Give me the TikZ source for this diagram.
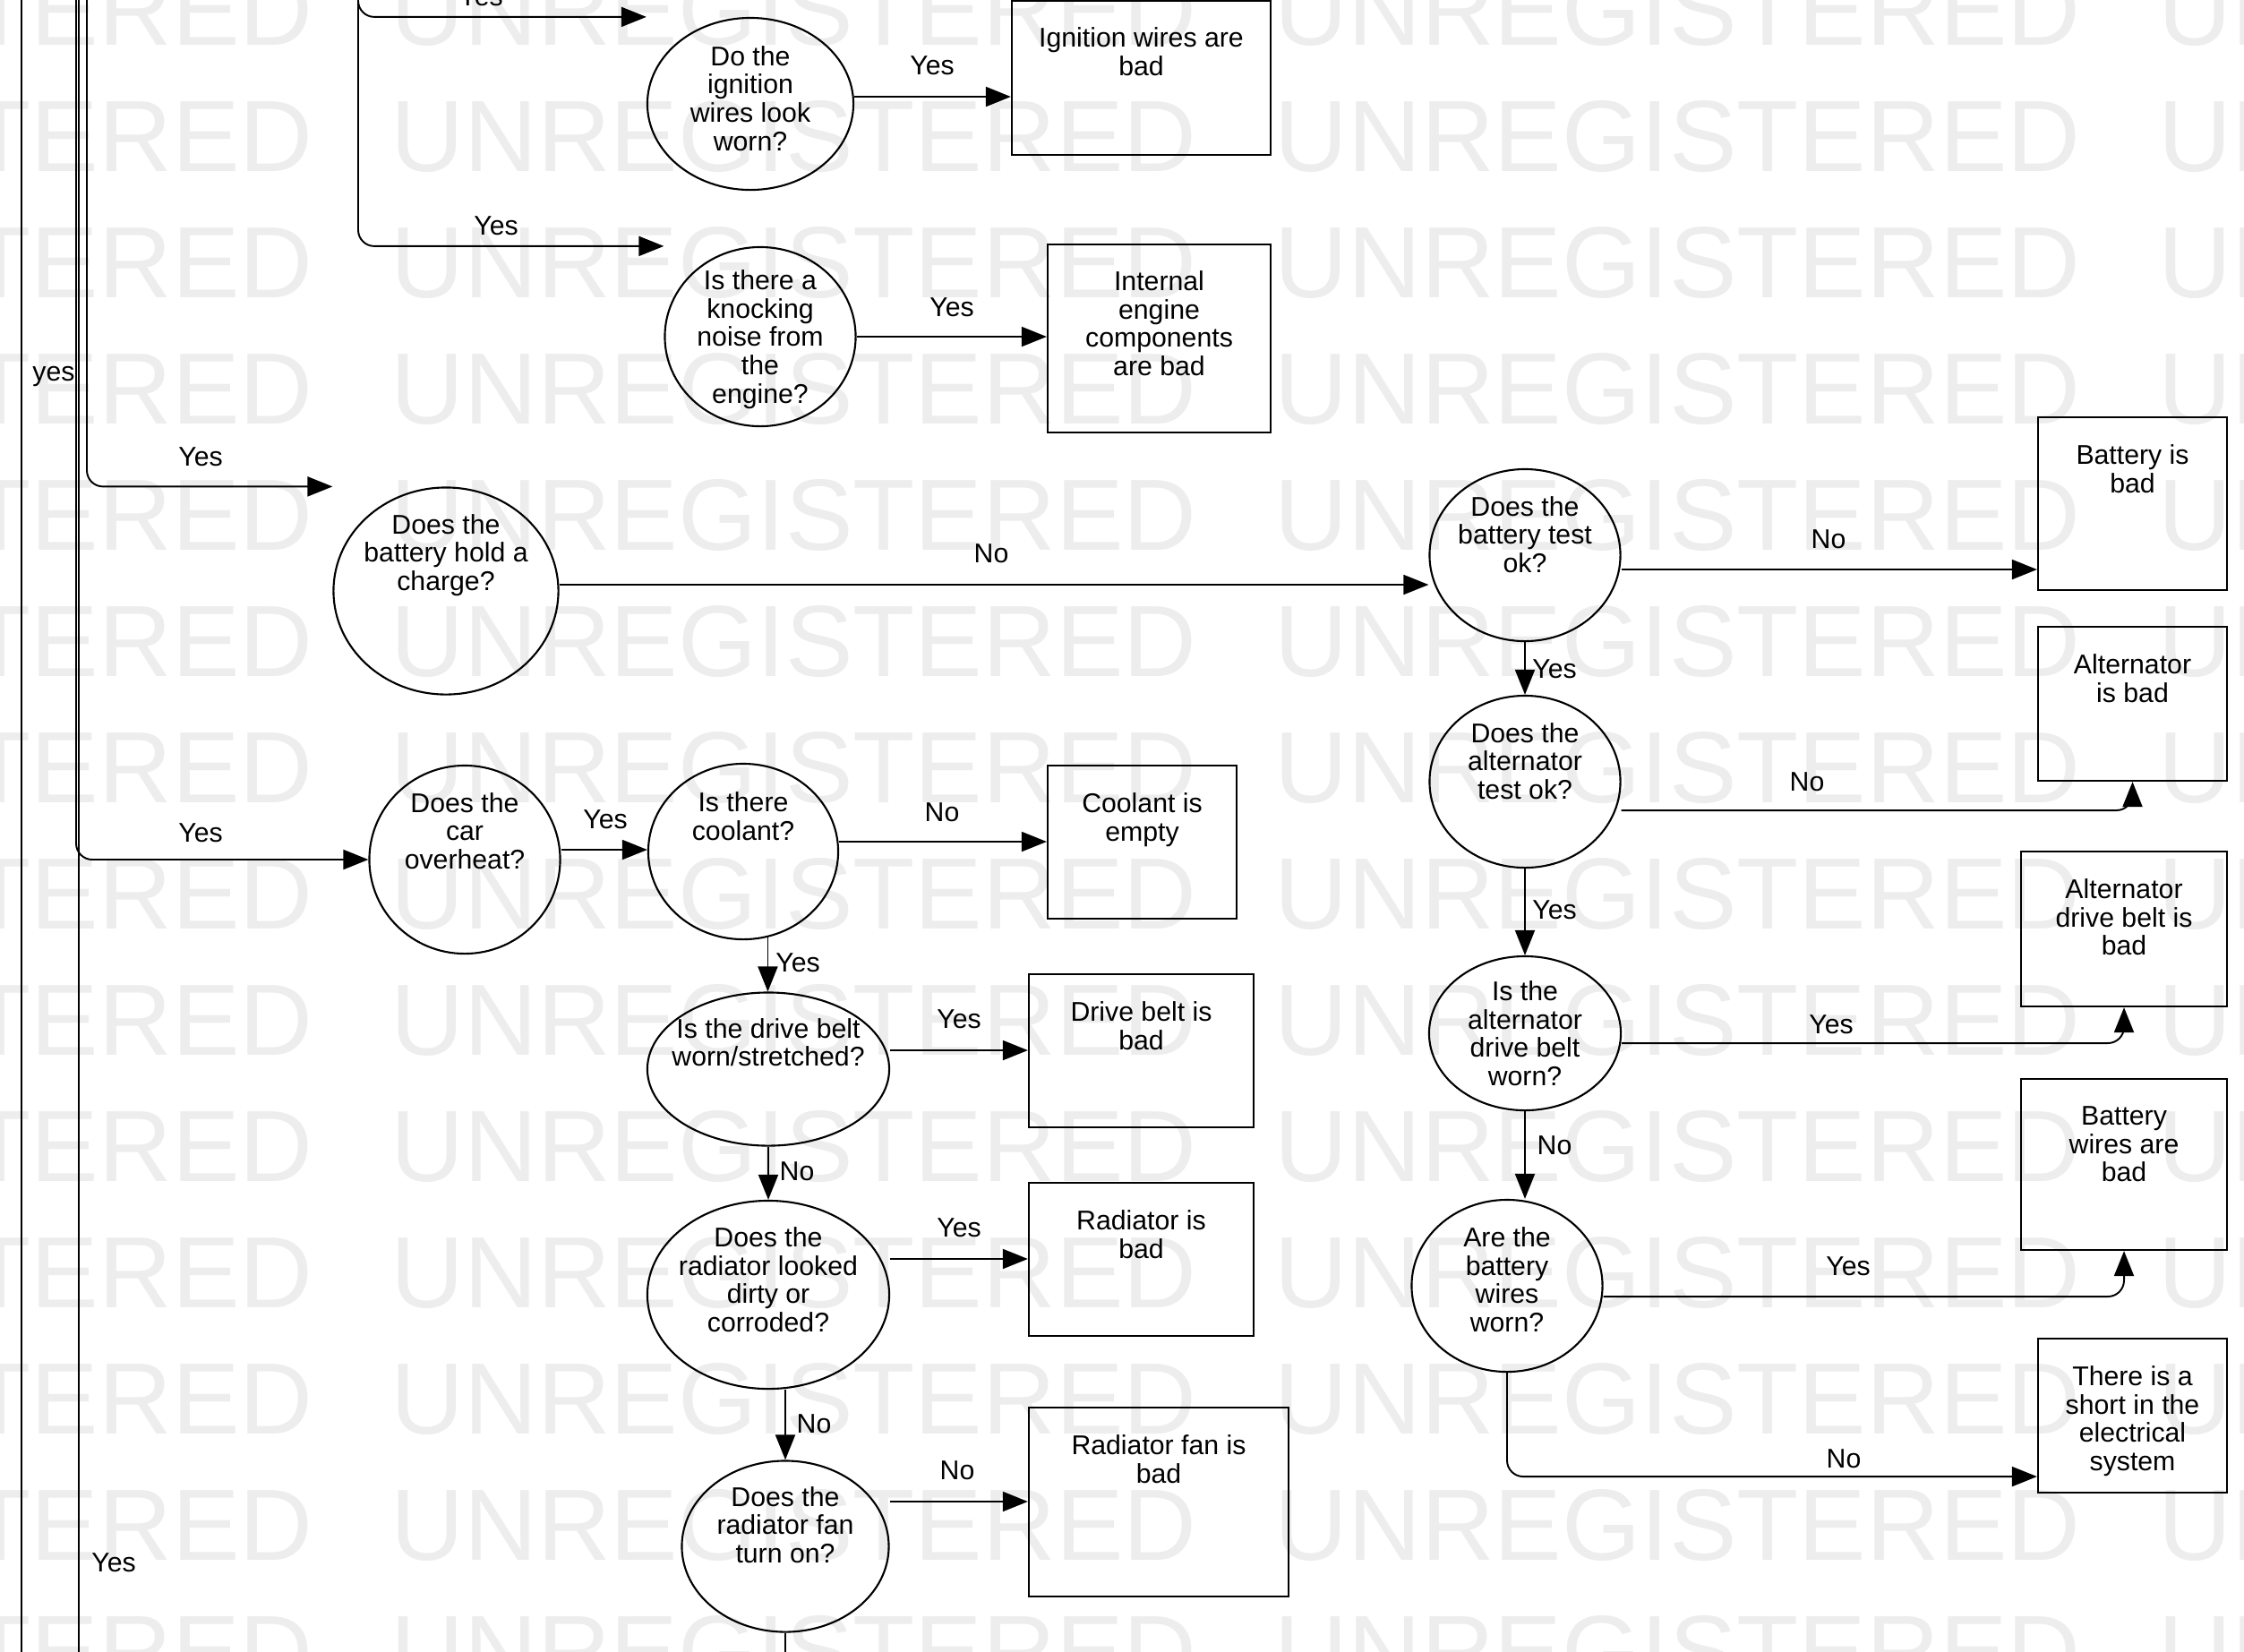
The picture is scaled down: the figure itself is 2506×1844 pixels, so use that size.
\documentclass[tikz,border=0pt]{standalone}
\usepackage{fontspec}
\setmainfont{Liberation Sans}
\usetikzlibrary{arrows.meta,positioning,shapes.geometric}
\definecolor{wmGray}{RGB}{237,237,237}

\begin{document}
\begin{tikzpicture}[
    x=0.01cm,y=-0.01cm,
    font=\fontsize{8.6pt}{9pt}\selectfont,
    quest/.style={draw,ellipse,line width=0.6pt,inner sep=0pt},
    qtext/.style={align=center,inner sep=0pt},
    outcome/.style={draw,rectangle,line width=0.6pt,inner sep=0pt},
    otext/.style={align=center,inner sep=0pt,anchor=north},
    arrow/.style={-{Triangle[length=0.28cm,width=0.22cm]},line width=0.55pt,rounded corners=0.18cm},
    wire/.style={line width=0.55pt},
    lbl/.style={inner sep=0pt},
    wmark/.style={anchor=north west,inner sep=0pt,text=wmGray,font=\fontsize{32.2pt}{33pt}\selectfont}
  ]
    \useasboundingbox (0,0) rectangle (2506,1844);
    \clip (0,0) rectangle (2506,1844);
    \foreach \r in {0,...,13}
      \foreach \c in {0,...,3}
        \node[wmark] (wm-\r-\c) at (-551+987*\c,-29+141*\r) {UNREGISTERED};

    \node[quest,minimum width=2.30cm,minimum height=1.92cm] (qign) at (838,116) {};
    \node[quest,minimum width=2.13cm,minimum height=2.00cm] (qknock) at (849,376) {};
    \node[quest,minimum width=2.51cm,minimum height=2.31cm] (qchg) at (498,660) {};
    \node[quest,minimum width=2.13cm,minimum height=1.92cm] (qbt) at (1703,620) {};
    \node[quest,minimum width=2.13cm,minimum height=1.92cm] (qalt) at (1703,873) {};
    \node[quest,minimum width=2.14cm,minimum height=1.72cm] (qbelt) at (1703,1154) {};
    \node[quest,minimum width=2.13cm,minimum height=1.92cm] (qwires) at (1683,1436) {};
    \node[quest,minimum width=2.13cm,minimum height=2.10cm] (qover) at (519,960) {};
    \node[quest,minimum width=2.12cm,minimum height=1.96cm] (qcool) at (830,951) {};
    \node[quest,minimum width=2.70cm,minimum height=1.71cm] (qdb) at (858,1194) {};
    \node[quest,minimum width=2.70cm,minimum height=2.10cm] (qdirty) at (858,1446) {};
    \node[quest,minimum width=2.31cm,minimum height=1.91cm] (qfan) at (877,1727) {};

    \node[qtext] (qign-t) at ([yshift=0.06cm]qign.center) {Do the\\ignition\\wires look\\worn?};
    \node[qtext] (qknock-t) at ([yshift=-0.03cm]qknock.center) {Is there a\\knocking\\noise from\\the\\engine?};
    \node[qtext] (qchg-t) at ([yshift=0.40cm]qchg.center) {Does the\\battery hold a\\charge?};
    \node[qtext] (qbt-t) at ([yshift=0.23cm]qbt.center) {Does the\\battery test\\ok?};
    \node[qtext] (qalt-t) at ([yshift=0.23cm]qalt.center) {Does the\\alternator\\test ok?};
    \node[qtext] (qbelt-t) at (qbelt.center) {Is the\\alternator\\drive belt\\worn?};
    \node[qtext] (qwires-t) at ([yshift=0.07cm]qwires.center) {Are the\\battery\\wires\\worn?};
    \node[qtext] (qover-t) at ([yshift=0.32cm]qover.center) {Does the\\car\\overheat?};
    \node[qtext] (qcool-t) at ([yshift=0.39cm]qcool.center) {Is there\\coolant?};
    \node[qtext] (qdb-t) at ([yshift=0.30cm]qdb.center) {Is the drive belt\\worn/stretched?};
    \node[qtext] (qdirty-t) at ([yshift=0.17cm]qdirty.center) {Does the\\radiator looked\\dirty or\\corroded?};
    \node[qtext] (qfan-t) at ([yshift=0.24cm]qfan.center) {Does the\\radiator fan\\turn on?};

    \node[outcome,minimum width=2.89cm,minimum height=1.72cm] (bign) at (1274.5,87) {};
    \node[outcome,minimum width=2.49cm,minimum height=2.10cm] (bint) at (1294.5,378) {};
    \node[outcome,minimum width=2.11cm,minimum height=1.93cm] (bbat) at (2381.5,562.5) {};
    \node[outcome,minimum width=2.11cm,minimum height=1.72cm] (balt) at (2381.5,786) {};
    \node[outcome,minimum width=2.30cm,minimum height=1.73cm] (bbelt) at (2372,1037.5) {};
    \node[outcome,minimum width=2.30cm,minimum height=1.91cm] (bwires) at (2372,1300.5) {};
    \node[outcome,minimum width=2.11cm,minimum height=1.72cm] (bshort) at (2381.5,1581) {};
    \node[outcome,minimum width=2.11cm,minimum height=1.71cm] (bcool) at (1275.5,940.5) {};
    \node[outcome,minimum width=2.51cm,minimum height=1.71cm] (bdb) at (1274.5,1173.5) {};
    \node[outcome,minimum width=2.51cm,minimum height=1.71cm] (brad) at (1274.5,1406.5) {};
    \node[outcome,minimum width=2.90cm,minimum height=2.11cm] (bfan) at (1294,1677.5) {};

    \node[otext] (bign-t) at ([yshift=-0.30cm]bign.north) {Ignition wires are\\bad};
    \node[otext] (bint-t) at ([yshift=-0.30cm]bint.north) {Internal\\engine\\components\\are bad};
    \node[otext] (bbat-t) at ([yshift=-0.31cm]bbat.north) {Battery is\\bad};
    \node[otext] (balt-t) at ([yshift=-0.31cm]balt.north) {Alternator\\is bad};
    \node[otext] (bbelt-t) at ([yshift=-0.31cm]bbelt.north) {Alternator\\drive belt is\\bad};
    \node[otext] (bwires-t) at ([yshift=-0.31cm]bwires.north) {Battery\\wires are\\bad};
    \node[otext] (bshort-t) at ([yshift=-0.31cm]bshort.north) {There is a\\short in the\\electrical\\system};
    \node[otext] (bcool-t) at ([yshift=-0.31cm]bcool.north) {Coolant is\\empty};
    \node[otext] (bdb-t) at ([yshift=-0.31cm]bdb.north) {Drive belt is\\bad};
    \node[otext] (brad-t) at ([yshift=-0.31cm]brad.north) {Radiator is\\bad};
    \node[otext] (bfan-t) at ([yshift=-0.31cm]bfan.north) {Radiator fan is\\bad};

    \coordinate (topA) at (24,-20);
    \coordinate (botA) at (24,1870);
    \coordinate (topB) at (88,-20);
    \coordinate (botB) at (88,1870);
    \coordinate (topB2) at (85,-20);
    \coordinate (topC) at (97,-20);
    \coordinate (topD) at (400,-20);
    \coordinate (botF) at (877,1870);

    \draw[wire] (topA) -- (botA);
    \draw[wire] (topB) -- (botB);
    \draw[arrow] (topB2) |- (qover.west);
    \draw[arrow] (topC) |- (qchg.north -| qchg.west);
    \draw[arrow] (topD) |- (qign.north -| qign.west);
    \draw[arrow] (topD) |- (qknock.north -| qknock.west);

    \draw[arrow] ([yshift=0.08cm]qign.east) -- ([yshift=0.08cm]qign.east -| bign.west);
    \draw[arrow] (qknock.east) -- (qknock.east -| bint.west);
    \draw[arrow] ([yshift=0.07cm]qchg.east) -- ([yshift=0.07cm]qchg.east -| qbt.west);
    \draw[arrow] ([yshift=-0.16cm]qbt.east) -- ([yshift=-0.16cm]qbt.east -| bbat.west);
    \draw[arrow] (qbt.south) -- (qalt.north);
    \draw[arrow] ([yshift=-0.32cm]qalt.east) -| (balt.south);
    \draw[arrow] (qalt.south) -- (qbelt.north);
    \draw[arrow] ([yshift=-0.11cm]qbelt.east) -| (bbelt.south);
    \draw[arrow] (qbelt.south) -- (qbelt.south |- qwires.north);
    \draw[arrow] ([yshift=-0.12cm]qwires.east) -| (bwires.south);
    \draw[arrow] (qwires.south) |- ([yshift=-0.68cm]bshort.west);

    \draw[arrow] ([yshift=0.11cm]qover.east) -- ([yshift=0.11cm]qover.east -| qcool.west);
    \draw[arrow] ([yshift=0.11cm]qcool.east) -- ([yshift=0.11cm]qcool.east -| bcool.west);
    \draw[arrow] (qcool.-74) -- (qcool.-74 |- qdb.north);
    \draw[arrow] ([yshift=0.21cm]qdb.east) -- ([yshift=0.21cm]qdb.east -| bdb.west);
    \draw[arrow] (qdb.south) -- (qdirty.north);
    \draw[arrow] ([yshift=0.40cm]qdirty.east) -- ([yshift=0.40cm]qdirty.east -| brad.west);
    \draw[arrow] (qfan.north |- qdirty.south) -- (qfan.north);
    \draw[arrow] ([yshift=0.50cm]qfan.east) -- ([yshift=0.50cm]qfan.east -| bfan.west);
    \draw[wire] (qfan.south) -- (qfan.south |- botF);

    \node[lbl] (l-top) at (537,-4) {Yes};
    \node[lbl] (l-knock) at (554,252) {Yes};
    \node[lbl] (l-ign) at (1041,73) {Yes};
    \node[lbl] (l-int) at (1063,343) {Yes};
    \node[lbl] (l-yes) at (60,420) {yes};
    \node[lbl] (l-chg) at (224,510) {Yes};
    \node[lbl] (l-bt) at (1107,618) {No};
    \node[lbl] (l-bbat) at (2042,602) {No};
    \node[lbl] (l-alt) at (1736,747) {Yes};
    \node[lbl] (l-balt) at (2018,873) {No};
    \node[lbl] (l-belt) at (1736,1016) {Yes};
    \node[lbl] (l-bbelt) at (2045,1144) {Yes};
    \node[lbl] (l-wires) at (1736,1279) {No};
    \node[lbl] (l-bwires) at (2064,1414) {Yes};
    \node[lbl] (l-bshort) at (2059,1629) {No};
    \node[lbl] (l-over) at (224,930) {Yes};
    \node[lbl] (l-cool) at (676,915) {Yes};
    \node[lbl] (l-bcool) at (1052,907) {No};
    \node[lbl] (l-db) at (891,1075) {Yes};
    \node[lbl] (l-bdb) at (1071,1138) {Yes};
    \node[lbl] (l-dirty) at (890,1308) {No};
    \node[lbl] (l-brad) at (1071,1371) {Yes};
    \node[lbl] (l-fan) at (909,1590) {No};
    \node[lbl] (l-bfan) at (1069,1642) {No};
    \node[lbl] (l-bot) at (127,1745) {Yes};
  \end{tikzpicture}
\end{document}
